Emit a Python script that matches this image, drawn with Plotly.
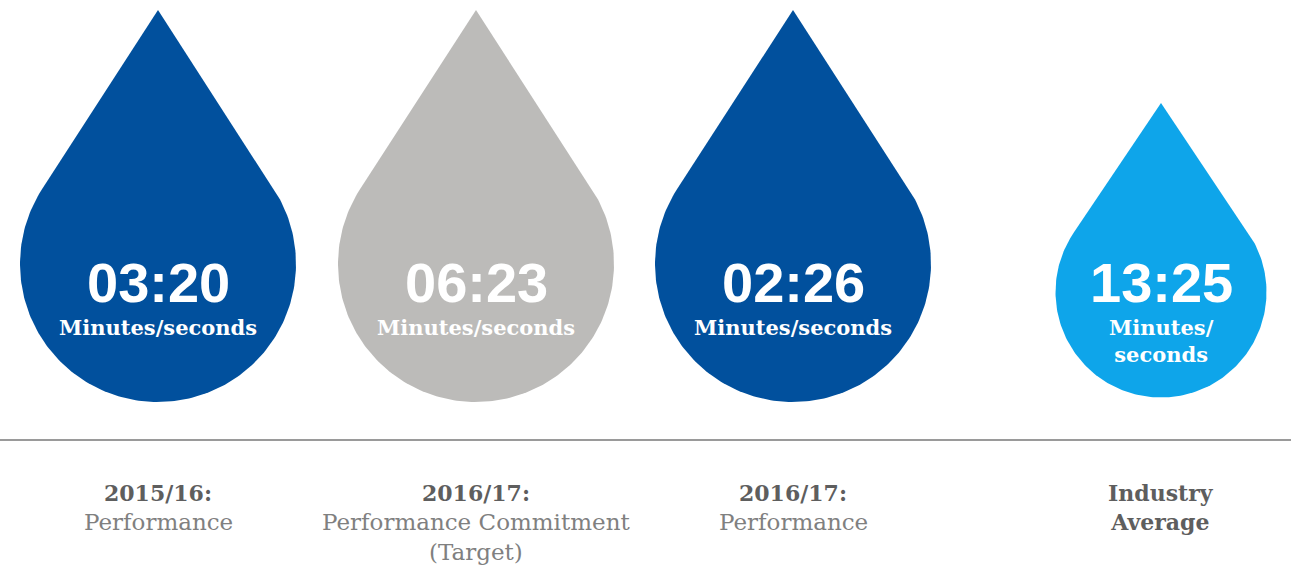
import numpy as np
import plotly.graph_objects as go

# Data
periods = ["2015/16:", "2016/17:", "2016/17:", "Industry<br>Average"]
descriptions = ["Performance", "Performance Commitment<br>(Target)", "Performance", ""]
times = ["03:20", "06:23", "02:26", "13:25"]
units = ["Minutes/seconds", "Minutes/seconds", "Minutes/seconds", "Minutes/<br>seconds"]

# Layout / style (pixel space)
centers_x = [158, 476, 793, 1161]
centers_y = [264, 264, 264, 292]
radii = [138, 138, 138, 105.5]
tips_y = [10, 10, 10, 103]
colors = ["#01509d", "#bcbbb9", "#01509d", "#0ea5ea"]

W, H = 1291, 571
fig = go.Figure()


def drop_path(cx, cy, r, ty):
    d = cy - ty
    a = np.arccos(r / d)
    th = np.linspace(a, 2 * np.pi - a, 200)
    xs = np.concatenate([[cx], cx + r * np.sin(th), [cx]])
    ys = np.concatenate([[ty], cy - r * np.cos(th), [ty]])
    return xs, ys


for i in range(len(times)):
    xs, ys = drop_path(centers_x[i], centers_y[i], radii[i], tips_y[i])
    fig.add_trace(go.Scatter(x=xs, y=ys, mode="lines", fill="toself",
                             fillcolor=colors[i], line=dict(width=0),
                             hoverinfo="skip", showlegend=False))

# baseline
fig.add_shape(type="line", x0=0, x1=W, y0=440, y1=440, xref="x", yref="y",
              line=dict(color="#9a9a9a", width=2))

for i in range(len(times)):
    cx = centers_x[i]
    fig.add_annotation(x=cx, y=282, text="<b>" + times[i] + "</b>", showarrow=False,
                       font=dict(family="Liberation Sans", size=56, color="white"),
                       xanchor="center", yanchor="middle")
    fig.add_annotation(x=cx, y=327 if i < 3 else 341, text="<b>" + units[i] + "</b>",
                       showarrow=False,
                       font=dict(family="DejaVu Serif", size=21, color="white"),
                       xanchor="center", yanchor="middle")
    fig.add_annotation(x=cx, y=478, text="<b>" + periods[i] + "</b>", showarrow=False,
                       font=dict(family="DejaVu Serif", size=22, color="#5e5e5e"),
                       xanchor="center", yanchor="top", align="center")
    if descriptions[i]:
        fig.add_annotation(x=cx, y=507, text=descriptions[i], showarrow=False,
                           font=dict(family="DejaVu Serif", size=23, color="#808080"),
                           xanchor="center", yanchor="top", align="center")

fig.update_xaxes(range=[0, W], visible=False, fixedrange=True)
fig.update_yaxes(range=[H, 0], visible=False, fixedrange=True)
fig.update_layout(width=W, height=H, margin=dict(l=0, r=0, t=0, b=0),
                  paper_bgcolor="white", plot_bgcolor="white")

fig.write_html("out.html", config={"displayModeBar": False},
               post_script="document.body.style.margin='0px';")
